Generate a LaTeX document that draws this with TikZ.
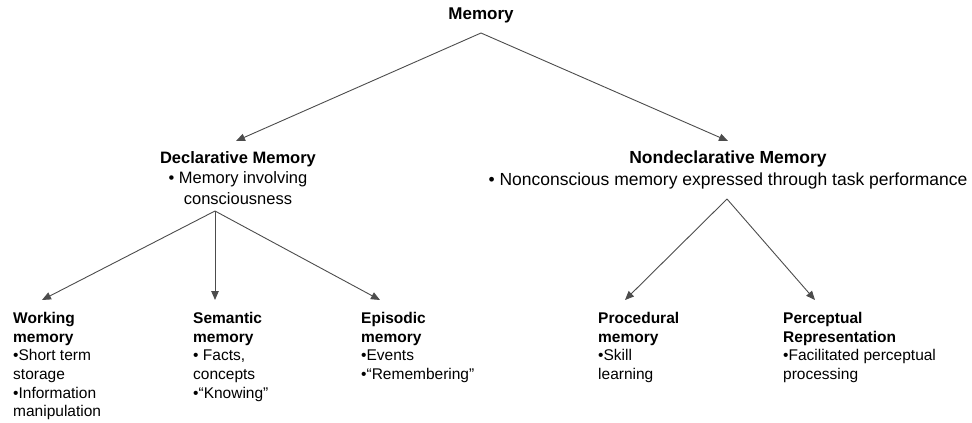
\documentclass[tikz,border=0pt]{standalone}
\usepackage{fontspec}
\setmainfont{Liberation Sans}
\usetikzlibrary{arrows.meta}
\tikzset{%
  topic/.style  = {inner sep=0pt, align=center, anchor=north,%
                   font=\fontsize{16.5}{20.5}\selectfont},%
  leaf/.style   = {inner sep=0pt, align=left, anchor=north west,%
                   font=\fontsize{15.5}{18.7}\selectfont},%
  branch/.style = {draw=black!70, line width=0.9pt,%
                   -{Triangle[length=9pt,width=7.5pt]}}%
}

\begin{document}
\begin{tikzpicture}[x=1pt,y=-1pt]
	\useasboundingbox (0,0) rectangle (972,423);
	% top
	\node (mem) at (481,8) [topic, font=\bfseries\fontsize{17}{20}\selectfont] {Memory};
	\coordinate (memfork) at (481,33);
	% second level
	\node (decl) at (238,151) [topic]
		{\textbf{Declarative Memory}\\• Memory involving\\consciousness};
	\node (nondecl) at (728,151) [topic, font=\fontsize{17.5}{21.5}\selectfont]
		{\textbf{Nondeclarative Memory}\\• Nonconscious memory expressed through task performance};
	\coordinate (declfork) at (215,211);
	\coordinate (nondeclfork) at (727,199);
	% leaves
	\node (work) at (13,312) [leaf]
		{\textbf{Working}\\\textbf{memory}\\•Short term\\storage\\•Information\\manipulation};
	\node (sem) at (193,312) [leaf]
		{\textbf{Semantic}\\\textbf{memory}\\• Facts,\\concepts\\•“Knowing”};
	\node (epi) at (361,312) [leaf]
		{\textbf{Episodic}\\\textbf{memory}\\•Events\\•“Remembering”};
	\node (proc) at (598,312) [leaf]
		{\textbf{Procedural}\\\textbf{memory}\\•Skill\\learning};
	\node (perc) at (783,312) [leaf]
		{\textbf{Perceptual}\\\textbf{Representation}\\•Facilitated perceptual\\processing};
	% connectors
	\draw[branch] (memfork) -- ([xshift=-2pt,yshift=10pt]decl.north);
	\draw[branch] (memfork) -- ([yshift=10pt]nondecl.north);
	\draw[branch] (declfork) -- ([xshift=29pt,yshift=12pt]work.north west);
	\draw[branch] (declfork) -- ([xshift=22pt,yshift=12pt]sem.north west);
	\draw[branch] (declfork) -- ([xshift=19pt,yshift=12pt]epi.north west);
	\draw[branch] (nondeclfork) -- ([xshift=27pt,yshift=12pt]proc.north west);
	\draw[branch] (nondeclfork) -- ([xshift=32pt,yshift=12pt]perc.north west);
\end{tikzpicture}
\end{document}
